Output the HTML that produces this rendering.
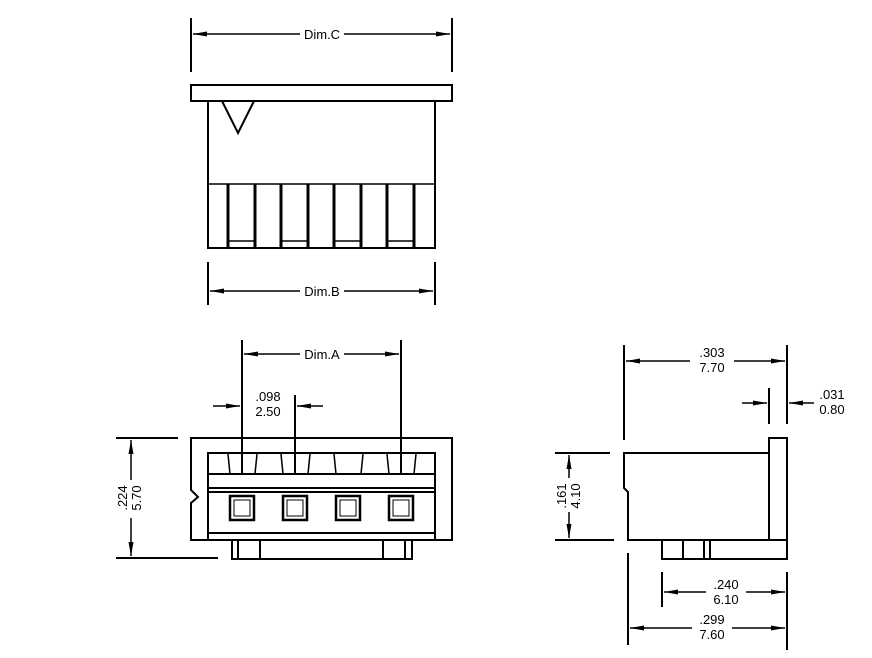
<!DOCTYPE html>
<html><head><meta charset="utf-8"><style>
html,body{margin:0;padding:0;background:#fff;}
svg{display:block;}
text{font-family:"Liberation Sans",sans-serif;font-size:13px;fill:#000;}
</style></head><body>
<svg width="872" height="658" viewBox="0 0 872 658" xmlns="http://www.w3.org/2000/svg">
<defs>
<marker id="a" markerWidth="14" markerHeight="6" refX="14" refY="3" orient="auto" markerUnits="userSpaceOnUse">
<path d="M0,0.5 L14,3 L0,5.5 z" fill="#000"/></marker>
</defs>
<g stroke="#000" stroke-width="2" fill="none">
<!-- Top view -->
<rect x="191" y="85" width="261" height="16"/>
<rect x="208" y="101" width="227" height="147"/>
<line x1="208" y1="184" x2="435" y2="184" stroke-width="1.5"/>
<polyline points="222,101 238,133 254,101"/>
<g stroke-width="1.5">
<line x1="228" y1="184" x2="228" y2="248" stroke-width="3"/>
<line x1="255" y1="184" x2="255" y2="248" stroke-width="3"/>
<line x1="281" y1="184" x2="281" y2="248" stroke-width="3"/>
<line x1="308" y1="184" x2="308" y2="248" stroke-width="3"/>
<line x1="334" y1="184" x2="334" y2="248" stroke-width="3"/>
<line x1="361" y1="184" x2="361" y2="248" stroke-width="3"/>
<line x1="387" y1="184" x2="387" y2="248" stroke-width="3"/>
<line x1="414" y1="184" x2="414" y2="248" stroke-width="3"/>
<line x1="228" y1="241" x2="255" y2="241"/>
<line x1="281" y1="241" x2="308" y2="241"/>
<line x1="334" y1="241" x2="361" y2="241"/>
<line x1="387" y1="241" x2="414" y2="241"/>
</g>
<!-- Dim.C -->
<line x1="191" y1="18" x2="191" y2="72"/>
<line x1="452" y1="18" x2="452" y2="72"/>
<line x1="300" y1="34" x2="193" y2="34" stroke-width="1.5" marker-end="url(#a)"/>
<line x1="344" y1="34" x2="450" y2="34" stroke-width="1.5" marker-end="url(#a)"/>
<!-- Dim.B -->
<line x1="208" y1="262" x2="208" y2="305"/>
<line x1="435" y1="262" x2="435" y2="305"/>
<line x1="300" y1="291" x2="210" y2="291" stroke-width="1.5" marker-end="url(#a)"/>
<line x1="344" y1="291" x2="433" y2="291" stroke-width="1.5" marker-end="url(#a)"/>

<!-- Front view -->
<path d="M191,438 H452 V540 H191 V503 L198,497 L191,490 Z"/>
<rect x="208" y="453" width="227" height="87"/>
<line x1="208" y1="474" x2="435" y2="474"/>
<line x1="208" y1="488" x2="435" y2="488"/>
<line x1="208" y1="492" x2="435" y2="492"/>
<line x1="208" y1="533" x2="435" y2="533"/>
<g stroke-width="1.5">
<line x1="228" y1="454" x2="230" y2="474"/><line x1="257" y1="454" x2="255" y2="474"/>
<line x1="281" y1="454" x2="283" y2="474"/><line x1="310" y1="454" x2="308" y2="474"/>
<line x1="334" y1="454" x2="336" y2="474"/><line x1="363" y1="454" x2="361" y2="474"/>
<line x1="387" y1="454" x2="389" y2="474"/><line x1="416" y1="454" x2="414" y2="474"/>
</g>
<g stroke-width="2.5">
<rect x="230" y="496" width="24" height="24"/>
<rect x="283" y="496" width="24" height="24"/>
<rect x="336" y="496" width="24" height="24"/>
<rect x="389" y="496" width="24" height="24"/>
</g>
<g stroke-width="1">
<rect x="234" y="500" width="16" height="16"/>
<rect x="287" y="500" width="16" height="16"/>
<rect x="340" y="500" width="16" height="16"/>
<rect x="393" y="500" width="16" height="16"/>
</g>
<path d="M232,540 V559 H412 V540"/>
<line x1="238" y1="540" x2="238" y2="559"/>
<line x1="260" y1="540" x2="260" y2="559"/>
<line x1="383" y1="540" x2="383" y2="559"/>
<line x1="405" y1="540" x2="405" y2="559"/>
<!-- Dim.A -->
<line x1="242" y1="340" x2="242" y2="474"/>
<line x1="401" y1="340" x2="401" y2="474"/>
<line x1="295" y1="395" x2="295" y2="474"/>
<line x1="300" y1="354" x2="244" y2="354" stroke-width="1.5" marker-end="url(#a)"/>
<line x1="344" y1="354" x2="399" y2="354" stroke-width="1.5" marker-end="url(#a)"/>
<!-- .098 -->
<line x1="213" y1="406" x2="240" y2="406" stroke-width="1.5" marker-end="url(#a)"/>
<line x1="323" y1="406" x2="297" y2="406" stroke-width="1.5" marker-end="url(#a)"/>
<!-- .224 -->
<line x1="116" y1="438" x2="178" y2="438"/>
<line x1="116" y1="558" x2="218" y2="558"/>
<line x1="131" y1="480" x2="131" y2="440" stroke-width="1.5" marker-end="url(#a)"/>
<line x1="131" y1="518" x2="131" y2="556" stroke-width="1.5" marker-end="url(#a)"/>

<!-- Side view -->
<path d="M624,453 H769 V540 H628 V492 L624,488 Z"/>
<rect x="769" y="438" width="18" height="102"/>
<path d="M662,540 V559 H787 V540"/>
<line x1="683" y1="540" x2="683" y2="559"/>
<line x1="704" y1="540" x2="704" y2="559"/>
<line x1="710" y1="540" x2="710" y2="559"/>
<!-- .303 -->
<line x1="624" y1="345" x2="624" y2="440"/>
<line x1="787" y1="345" x2="787" y2="424"/>
<line x1="690" y1="361" x2="626" y2="361" stroke-width="1.5" marker-end="url(#a)"/>
<line x1="734" y1="361" x2="785" y2="361" stroke-width="1.5" marker-end="url(#a)"/>
<!-- .031 -->
<line x1="769" y1="388" x2="769" y2="424"/>
<line x1="742" y1="403" x2="767" y2="403" stroke-width="1.5" marker-end="url(#a)"/>
<line x1="814" y1="403" x2="789" y2="403" stroke-width="1.5" marker-end="url(#a)"/>
<!-- .161 -->
<line x1="555" y1="453" x2="610" y2="453"/>
<line x1="555" y1="540" x2="614" y2="540"/>
<line x1="569" y1="478" x2="569" y2="455" stroke-width="1.5" marker-end="url(#a)"/>
<line x1="569" y1="512" x2="569" y2="538" stroke-width="1.5" marker-end="url(#a)"/>
<!-- .240 -->
<line x1="662" y1="572" x2="662" y2="607"/>
<line x1="787" y1="572" x2="787" y2="650"/>
<line x1="706" y1="592" x2="664" y2="592" stroke-width="1.5" marker-end="url(#a)"/>
<line x1="746" y1="592" x2="785" y2="592" stroke-width="1.5" marker-end="url(#a)"/>
<!-- .299 -->
<line x1="628" y1="553" x2="628" y2="645"/>
<line x1="692" y1="628" x2="630" y2="628" stroke-width="1.5" marker-end="url(#a)"/>
<line x1="732" y1="628" x2="785" y2="628" stroke-width="1.5" marker-end="url(#a)"/>
</g>
<g text-anchor="middle">
<text x="322" y="39">Dim.C</text>
<text x="322" y="296">Dim.B</text>
<text x="322" y="359">Dim.A</text>
<text x="268" y="401">.098</text>
<text x="268" y="416">2.50</text>
<text x="712" y="357">.303</text>
<text x="712" y="372">7.70</text>
<text x="832" y="399">.031</text>
<text x="832" y="414">0.80</text>
<text x="726" y="589">.240</text>
<text x="726" y="604">6.10</text>
<text x="712" y="624">.299</text>
<text x="712" y="639">7.60</text>
<text transform="translate(127,498) rotate(-90)">.224</text>
<text transform="translate(141,498) rotate(-90)">5.70</text>
<text transform="translate(566,496) rotate(-90)">.161</text>
<text transform="translate(580,496) rotate(-90)">4.10</text>
</g>
</svg>
</body></html>
